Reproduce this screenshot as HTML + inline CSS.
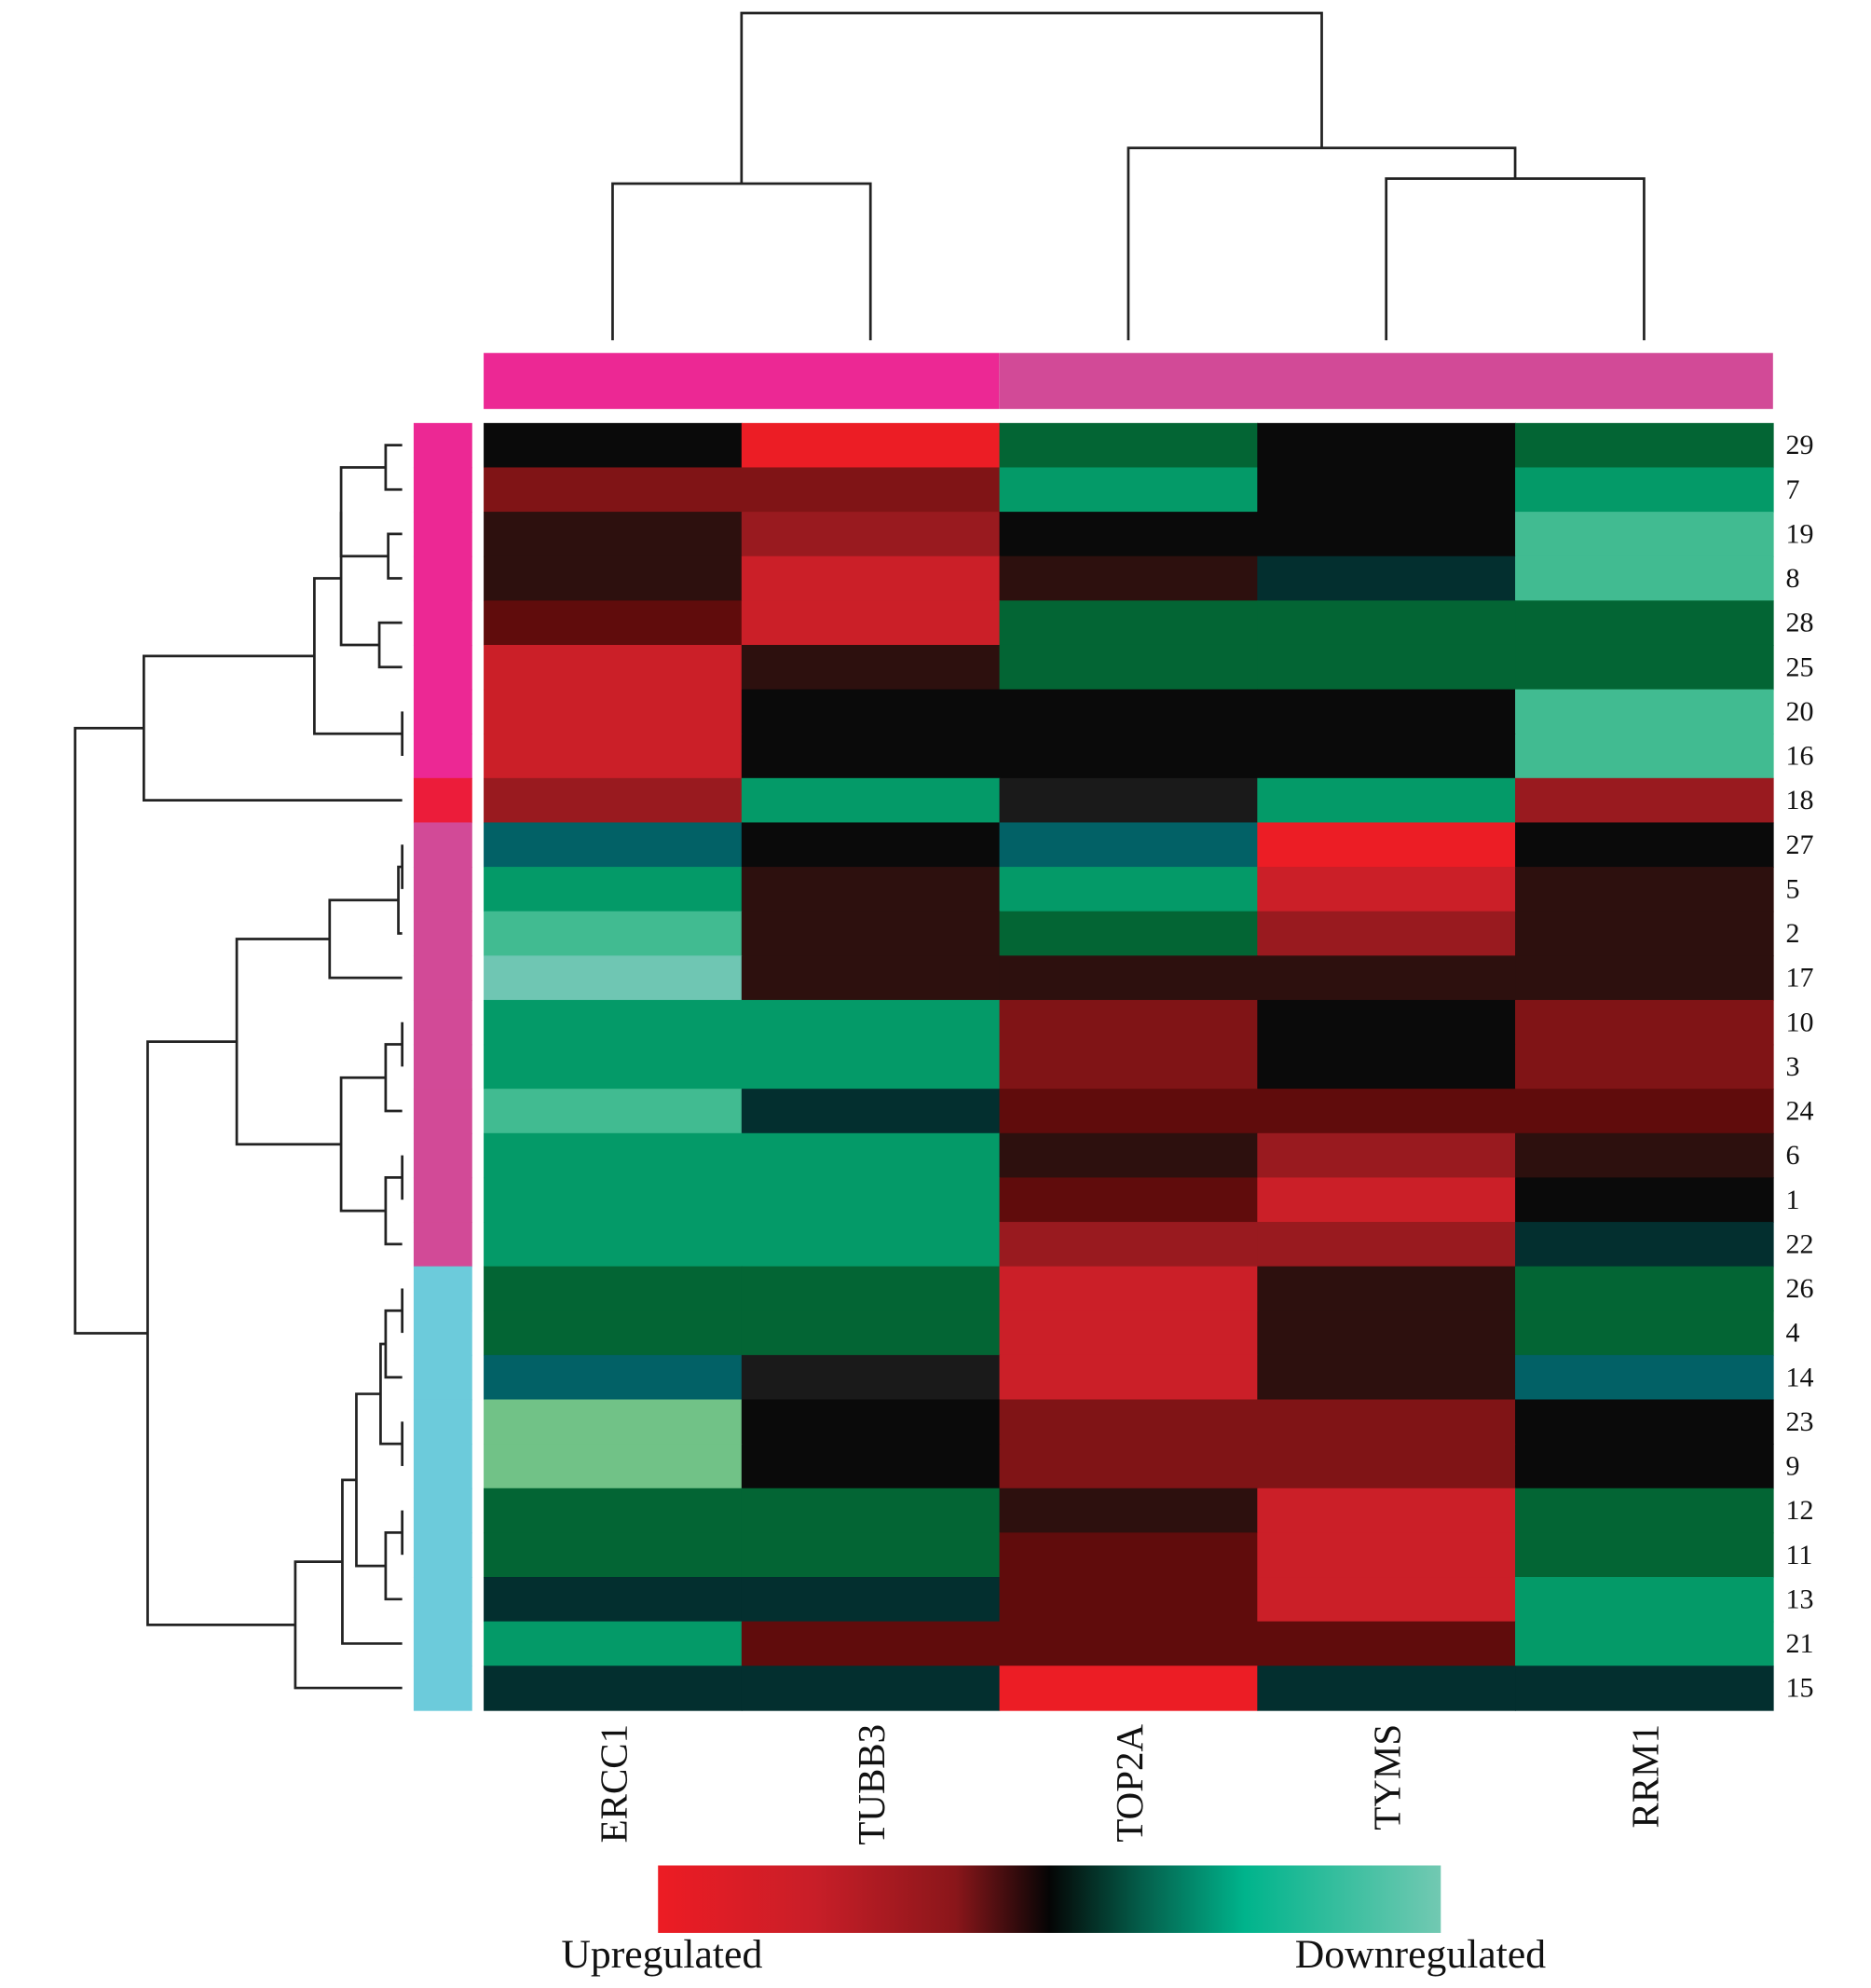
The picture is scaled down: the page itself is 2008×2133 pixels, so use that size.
<!DOCTYPE html>
<html><head><meta charset="utf-8"><style>
html,body{margin:0;padding:0;background:#fff}
svg{display:block}
text{font-family:"Liberation Serif",serif;fill:#111}
</style></head><body>
<svg id="chart" width="2008" height="2133" viewBox="0 0 1470 1561" xmlns="http://www.w3.org/2000/svg">
<defs>
<linearGradient id="cb" x1="0" x2="1" y1="0" y2="0">
<stop offset="0" stop-color="#ed1c24"/><stop offset="0.2" stop-color="#c81e28"/><stop offset="0.38" stop-color="#8a161a"/>
<stop offset="0.5" stop-color="#050505"/><stop offset="0.62" stop-color="#04604c"/><stop offset="0.75" stop-color="#00b48c"/>
<stop offset="1" stop-color="#72c9b2"/></linearGradient>
</defs>
<g id="top-bar">
<rect x="380" y="277" width="405" height="44" fill="#ec2894"/>
<rect x="785" y="277" width="608" height="44" fill="#d24a97"/>
</g>
<g id="cells"></g>
<g id="side"></g>
<g id="rlabels"></g>
<g id="clabels"></g>
<g id="rdend" stroke="#222" stroke-width="2" fill="none"></g>
<g id="cdend" stroke="#222" stroke-width="2" fill="none"></g>
<rect x="517" y="1465" width="615" height="53" fill="url(#cb)"/>
<text x="520" y="1545" font-size="32" text-anchor="middle">Upregulated</text>
<text x="1116" y="1545" font-size="32" text-anchor="middle">Downregulated</text>
</svg>
<script>
const genes = ["ERCC1","TUBB3","TOP2A","TYMS","RRM1"];
const samples = ["29","7","19","8","28","25","20","16","18","27","5","2","17","10","3","24","6","1","22","26","4","14","23","9","12","11","13","21","15"];
// values: negative = upregulated (red), positive = downregulated (green)
const valERCC1 = [0,-2,-1,-1,-1.5,-3,-3,-3,-2.5,2,3,4,5,3,3,4,3,3,3,2.5,2.5,2,4.5,4.5,2.5,2.5,1,3,1];
const valTUBB3 = [-4,-2,-2.5,-3,-3,-1,0,0,3,0,-1,-1,-1,3,3,1,3,3,3,2.5,2.5,0.3,0,0,2.5,2.5,1,-1.5,1];
const valTOP2A = [2.5,3,0,-1,2.5,2.5,0,0,0.3,2,3,2.5,-1,-2,-2,-1.5,-1,-1.5,-2.5,-3,-3,-3,-2,-2,-1,-1.5,-1.5,-1.5,-4];
const valTYMS  = [0,0,0,1,2.5,2.5,0,0,3,-4,-3,-2.5,-1,0,0,-1.5,-2.5,-3,-2.5,-1,-1,-1,-2,-2,-3,-3,-3,-1.5,1];
const valRRM1  = [2.5,3,4,4,2.5,2.5,4,4,-2.5,0,-1,-1,-1,-2,-2,-1.5,-1,0,1,2.5,2.5,2,0,0,2.5,2.5,3,3,1];
const rowGroups = [1,1,1,1,1,1,1,1,2,3,3,3,3,3,3,3,3,3,3,4,4,4,4,4,4,4,4,4,4];
const colMerges = [[0,1,144],[3,4,140],[2,"b",116],["a","c",10]];
const rowTree = [59,[113,[247,[268,[268,[303,0,1],[305,2,3]],[298,4,5]],[316,6,7]],8],
 [116,[186,[259,[313,[316,9,10],11],12],[268,[303,[316,13,14],15],[303,[316,16,17],18]]],
  [232,[269,[280,[299,[303,[316,19,20],21],[316,22,23]],[303,[316,24,25],26]],27],28]]];
const cols=[valERCC1,valTUBB3,valTOP2A,valTYMS,valRRM1];
const X0=380,X1=1393,Y0=332,Y1=1343;
const cw=(X1-X0)/genes.length, rh=(Y1-Y0)/samples.length;
const xs=i=>X0+i*cw, ys=i=>Y0+i*rh;
const ns="http://www.w3.org/2000/svg";
function col(v){const t=[[-4,"#ec1d25"],[-3,"#cb1f28"],[-2.5,"#991a1f"],[-2,"#801416"],[-1.5,"#600c0c"],[-1,"#2d100e"],[0,"#0a0a0a"],[0.3,"#1a1a1a"],[1,"#032f2f"],[2,"#026166"],[2.5,"#036534"],[3,"#049a68"],[4,"#41bb91"],[4.5,"#71c287"],[5,"#6fc6b3"]];
 let b=t[0];for(const e of t){if(Math.abs(e[0]-v)<Math.abs(b[0]-v))b=e;}return b[1];}
const gC={1:"#ec2894",2:"#ec1c3a",3:"#d24a97",4:"#6ccbdb"};
const cells=document.getElementById('cells'),side=document.getElementById('side'),rl=document.getElementById('rlabels'),cl=document.getElementById('clabels');
samples.forEach((s,r)=>{
 genes.forEach((g,c)=>{const e=document.createElementNS(ns,'rect');
  e.setAttribute('x',xs(c));e.setAttribute('y',ys(r));e.setAttribute('width',cw+0.6);e.setAttribute('height',rh+0.6);
  e.setAttribute('fill',col(cols[c][r]));
  
  
  cells.appendChild(e);});
 const b=document.createElementNS(ns,'rect');b.setAttribute('x',325);b.setAttribute('y',ys(r));b.setAttribute('width',46);b.setAttribute('height',rh+0.6);b.setAttribute('fill',gC[rowGroups[r]]);
 
 
 side.appendChild(b);
 const t=document.createElementNS(ns,'text');t.setAttribute('x',1403);t.setAttribute('y',ys(r)+rh/2+7);t.setAttribute('font-size',22);t.textContent=s;
 
 
 rl.appendChild(t);
});
genes.forEach((g,c)=>{const t=document.createElementNS(ns,'text');const cx=xs(c)+cw/2+11;
 t.setAttribute('transform','translate('+cx+',1354) rotate(-90)');t.setAttribute('text-anchor','end');t.setAttribute('font-size',30);t.textContent=g;
 
 
 cl.appendChild(t);});
function line(p,par,name){const e=document.createElementNS(ns,'path');e.setAttribute('d',p);
 
 
 par.appendChild(e);}
const rd=document.getElementById('rdend');
function walk(n){if(typeof n==='number')return{x:316,y:ys(n)+rh/2};
 const h=n[0],a=walk(n[1]),b=walk(n[2]);
 line('M'+a.x+' '+a.y+'H'+h+'V'+b.y+'H'+b.x,rd,'row-branch');return{x:h,y:(a.y+b.y)/2};}
const root=walk(rowTree);
const cd=document.getElementById('cdend');const nodes={};let k=0;
colMerges.forEach(m=>{const get=v=>typeof v==='number'?{x:xs(v)+cw/2,y:267}:nodes[v];
 const a=get(m[0]),b=get(m[1]),h=m[2];
 line('M'+a.x+' '+a.y+'V'+h+'H'+b.x+'V'+b.y,cd,'column-branch');
 nodes["abc"[k++]]={x:(a.x+b.x)/2,y:h};});
</script>
</body></html>
